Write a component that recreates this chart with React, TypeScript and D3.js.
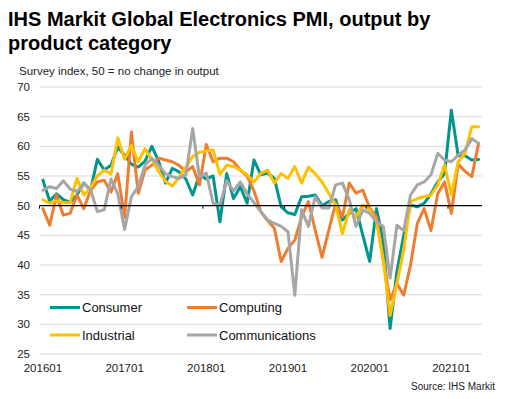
import React from "react";
import * as d3 from "d3";

const consumer = [
  54.3, 50.8, 52.0, 51.0, 50.6, 51.8, 53.8, 52.6, 57.8, 56.0, 56.8, 59.9,
  58.5, 57.0, 56.5, 57.5, 60.0, 57.5, 53.8, 56.3, 55.7, 54.5, 51.8, 55.2,
  54.5, 55.0, 47.3, 55.4, 51.2, 53.2, 50.4, 57.7, 55.2, 55.5, 54.6, 49.8,
  48.8, 48.5, 51.5, 51.6, 51.8, 50.0, 50.7, 51.0, 47.6, 48.7, 49.5, 45.0,
  40.6, 49.5, 44.0, 29.3, 38.9, 45.0, 50.1, 49.8, 50.4, 52.0, 54.0, 55.4,
  66.1, 58.4, 58.4, 57.7, 57.8,
];
const computing = [
  49.5, 46.7, 51.8, 48.4, 48.7, 51.8, 49.5, 52.6, 54.0, 54.3, 52.3, 55.4,
  48.0, 62.4, 52.1, 56.0, 56.8, 58.0, 57.7, 57.4, 56.8, 55.7, 56.6, 53.5,
  60.3, 57.4, 58.0, 58.0, 57.4, 56.0, 55.0, 52.5, 49.0, 47.5, 46.2, 40.6,
  42.8, 44.2, 48.1, 50.7, 45.9, 41.3, 45.9, 50.4, 48.1, 53.8, 52.1, 52.6,
  49.6, 48.1, 40.8, 34.1, 36.9, 34.9, 40.0, 47.0, 49.5, 45.8, 52.0, 54.0,
  48.7, 57.0, 55.8, 54.9, 60.5,
];
const industrial = [
  51.0, 50.4, 50.8, 50.5, 50.5, 54.6, 51.8, 53.0, 55.0, 56.0, 55.3, 61.4,
  57.8, 60.2, 57.4, 59.6, 57.8, 55.8, 54.1, 53.3, 54.8, 56.5, 58.3, 59.0,
  59.2, 59.4, 55.3, 56.8, 56.6, 56.0, 55.2, 54.0, 55.4, 56.0, 53.8, 55.4,
  54.6, 56.6, 53.8, 56.5, 55.4, 54.0, 52.1, 50.1, 45.3, 49.3, 48.1, 50.1,
  49.3, 47.3, 40.8, 31.5, 36.9, 42.5, 50.7, 51.2, 51.5, 51.8, 53.5, 56.9,
  51.8, 57.4, 58.8, 63.3, 63.3,
];
const communications = [
  52.6, 53.2, 52.9, 54.2, 52.8, 52.4, 53.7, 52.7, 49.0, 49.3, 54.5, 52.0,
  46.0, 51.5, 53.2, 56.8, 58.0, 56.8, 55.4, 54.9, 54.6, 55.2, 63.0, 54.8,
  55.5, 50.4, 50.1, 54.2, 52.5, 54.0, 52.0, 50.5, 49.0, 47.6, 47.0, 46.5,
  45.6, 34.9, 49.3, 46.5, 51.5, 49.6, 49.6, 53.5, 53.8, 51.0, 46.5, 49.3,
  48.7, 47.3, 46.5, 37.8, 46.7, 45.8, 51.8, 53.5, 54.0, 55.2, 58.8, 57.7,
  57.4, 58.5, 59.4, 61.3, 60.5,
];

const months = d3
  .timeMonth.range(new Date(2016, 0, 1), new Date(2021, 5, 1))
  .map((d) => d3.timeFormat("%Y%m")(d));
const xTickLabels = ["201601", "201701", "201801", "201901", "202001", "202101"];
const yTicks = [25, 30, 35, 40, 45, 50, 55, 60, 65, 70];

const seriesNames = ["Consumer", "Computing", "Industrial", "Communications"];
const seriesColors = ["#00958F", "#EF7D31", "#FFC000", "#A6A6A6"];
const seriesData = [consumer, computing, industrial, communications];

const FONT = "'Liberation Sans', Arial, sans-serif";

export default function App() {
  const W = 508;
  const H = 399;
  const x = d3.scaleBand<string>().domain(months).range([39.5, 482]).padding(0);
  const y = d3.scaleLinear().domain([25, 70]).range([354, 87]);
  const cx = (m: string) => (x(m) as number) + x.bandwidth() / 2;

  const line = d3
    .line<number>()
    .x((_, i) => cx(months[i]))
    .y((v) => y(v));

  const legendPos = [
    { lx: 50, ly: 307.5 },
    { lx: 187, ly: 307.5 },
    { lx: 50, ly: 335 },
    { lx: 187, ly: 335 },
  ];

  return (
    <svg
      width={W}
      height={H}
      style={{ position: "fixed", left: 0, top: 0, background: "#fff" }}
      fontFamily={FONT}
    >
      <rect width={W} height={H} fill="#fff" />
      <text x={8} y={26} fontSize={20} fontWeight="bold" fill="#000">
        IHS Markit Global Electronics PMI, output by
      </text>
      <text x={8} y={50} fontSize={20} fontWeight="bold" fill="#000">
        product category
      </text>
      <text x={19} y={75} fontSize={11.5} fill="#222">
        Survey index, 50 = no change in output
      </text>

      {yTicks.map((t) => (
        <g key={t}>
          {t !== 50 && (
            <line x1={39.5} x2={482} y1={y(t)} y2={y(t)} stroke="#D9D9D9" strokeWidth={1} />
          )}
          <text x={30} y={y(t)} dy="0.35em" textAnchor="end" fontSize={11.5} fill="#222">
            {t}
          </text>
        </g>
      ))}

      {xTickLabels.map((lab) => (
        <text key={lab} x={cx(lab)} y={372} textAnchor="middle" fontSize={11.5} fill="#222">
          {lab}
        </text>
      ))}

      {seriesData.map((d, k) => (
        <path
          key={seriesNames[k]}
          d={line(d) || ""}
          fill="none"
          stroke={seriesColors[k]}
          strokeWidth={3}
          strokeLinejoin="round"
          strokeLinecap="round"
        />
      ))}

      <line x1={39.5} x2={482} y1={y(50)} y2={y(50)} stroke="#000" strokeWidth={1.3} />
      {xTickLabels.map((lab) => (
        <line
          key={"t" + lab}
          x1={x(lab) as number}
          x2={x(lab) as number}
          y1={y(50)}
          y2={y(50) + 3}
          stroke="#000"
          strokeWidth={1}
        />
      ))}

      {seriesNames.map((n, k) => (
        <g key={"lg" + n}>
          <line
            x1={legendPos[k].lx}
            x2={legendPos[k].lx + 30}
            y1={legendPos[k].ly}
            y2={legendPos[k].ly}
            stroke={seriesColors[k]}
            strokeWidth={3}
          />
          <text x={legendPos[k].lx + 32} y={legendPos[k].ly} dy="0.35em" fontSize={13} fill="#111">
            {n}
          </text>
        </g>
      ))}

      <text x={495} y={390} textAnchor="end" fontSize={10} fill="#222">
        Source: IHS Markit
      </text>
    </svg>
  );
}
